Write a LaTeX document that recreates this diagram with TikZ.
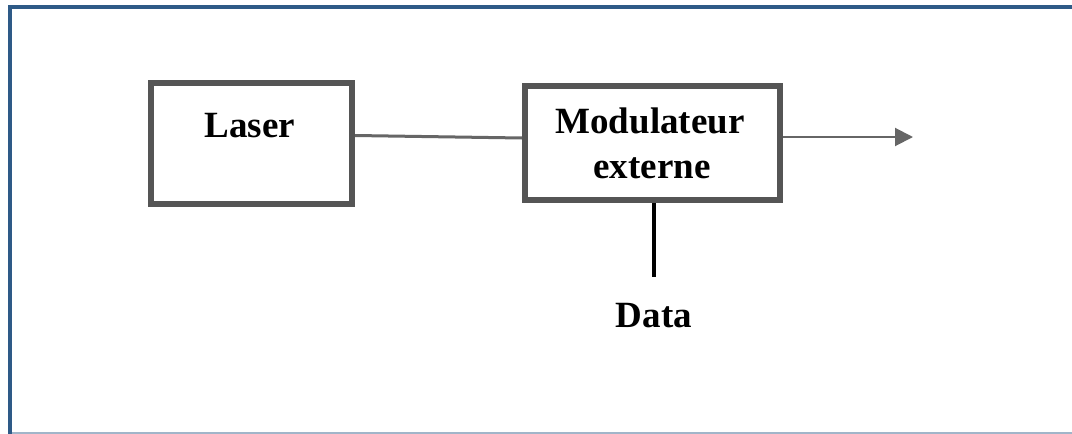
\documentclass[tikz,border=0pt]{standalone}
\usepackage{fontspec}
\setmainfont{Liberation Serif}
\usetikzlibrary{arrows.meta}
\definecolor{framecol}{HTML}{2E5A87}
\definecolor{boxcol}{HTML}{555555}
\definecolor{linecol}{HTML}{666666}
\begin{document}
\begin{tikzpicture}[x=1pt,y=-1pt,
  blockbox/.style={draw=boxcol,line width=6pt,fill=white,inner sep=0pt,minimum width=#1},
  lbl/.style={font=\fontsize{37}{40}\selectfont\bfseries,anchor=base,inner sep=0pt}]
\useasboundingbox (0,0) rectangle (1072,434);
\fill[white] (0,0) rectangle (1072,434);
% frame
\draw[framecol,line width=4pt] (1072,7) -- (10,7) -- (10,434);
\draw[framecol!45,line width=1.2pt] (12,433) -- (1072,433);
% blocks
\node[blockbox=201pt,minimum height=121pt] (laser) at (251.5,143.5) {};
\node[blockbox=255pt,minimum height=114pt] (mod) at (652.5,143) {};
\node[lbl] (lasertxt) at (250,137) {Laser};
\node[lbl] (modtxt1) at (650,133) {Modulateur};
\node[lbl] (modtxt2) at (652,178) {externe};
% connectors
\draw[linecol,line width=3pt] ([yshift=8pt]laser.east) -- ([yshift=5pt]mod.west);
\coordinate (out) at (913,137);
\draw[linecol,line width=2pt,-{Triangle[length=18pt,width=18pt]}] ([yshift=6pt]mod.east) -- (out);
\coordinate (dend) at (654,277);
\draw[black,line width=4pt] (mod.south -| dend) -- (dend);
\node[lbl] (data) at (654,327) {Data};
\end{tikzpicture}
\end{document}
